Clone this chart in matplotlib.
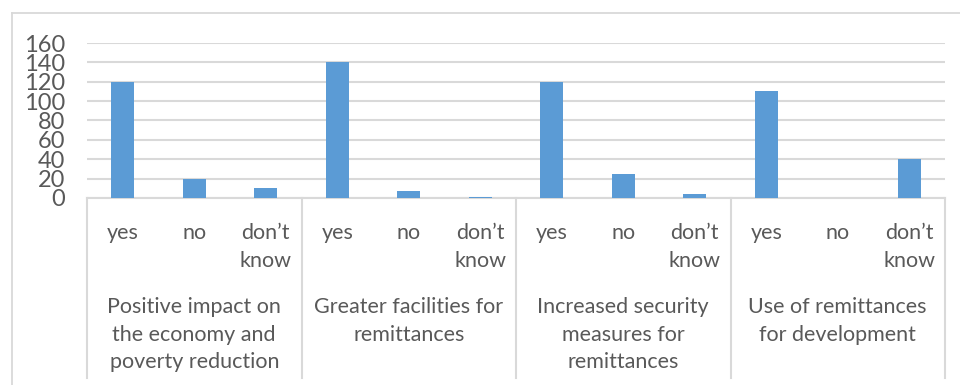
import matplotlib.pyplot as plt
import matplotlib.transforms as mtransforms
import numpy as np

# -----------------------------
# Data
# -----------------------------
groups = ["Positive impact on\nthe economy and\npoverty reduction",
          "Greater facilities for\nremittances",
          "Increased security\nmeasures for\nremittances",
          "Use of remittances\nfor development"]
answers = ["yes", "no", "don\u2019t\nknow"]
values = [120, 20, 10,
          140, 7, 1,
          120, 25, 4,
          110, 0, 40]
yticks = [0, 20, 40, 60, 80, 100, 120, 140, 160]

# -----------------------------
# Figure setup
# -----------------------------
plt.rcParams['font.family'] = ['Lato', 'DejaVu Sans']
W, H = 960, 385
fig = plt.figure(figsize=(W / 100, H / 100), dpi=100)
txt_color = '#595959'
grid_color = '#d9d9d9'
fs = 15.5

# outer chart border (left and top visible)
fig.add_artist(plt.Line2D([11.5 / W, 11.5 / W], [0, 1 - 13 / H], color=grid_color, lw=1.3))
fig.add_artist(plt.Line2D([11.5 / W, 1], [1 - 13 / H, 1 - 13 / H], color=grid_color, lw=1.3))

left, right = 87 / W, 945 / W
bottom, top = 1 - 198 / H, 1 - 43 / H
ax = fig.add_axes([left, bottom, right - left, top - bottom])

n = len(values)
x = np.arange(n)
ax.bar(x, values, width=0.32, color='#5b9bd5', zorder=3)

ax.set_xlim(-0.5, n - 0.5)
ax.set_ylim(0, 160)
ax.set_yticks(yticks)
ax.set_yticklabels([str(v) for v in yticks], fontsize=17, color=txt_color)
ax.tick_params(axis='y', length=0, pad=16)
ax.set_xticks([])
ax.grid(axis='y', color=grid_color, lw=1.5, zorder=0)
for s in ['top', 'right', 'left']:
    ax.spines[s].set_visible(False)
ax.spines['bottom'].set_color(grid_color)
ax.spines['bottom'].set_linewidth(1.5)

# -----------------------------
# Multi-level category axis
# -----------------------------
px = (top - bottom) * H  # axes height in pixels
trans = mtransforms.blended_transform_factory(ax.transData, ax.transAxes)
sep_bottom = -(378 - 198) / px
for k in range(len(groups) + 1):
    xs = k * 3 - 0.5
    ax.plot([xs, xs], [0, sep_bottom], transform=trans, color=grid_color,
            lw=1.5, clip_on=False)

for i in range(n):
    ax.text(x[i], -(223 - 198) / px, answers[i % 3], transform=trans,
            ha='center', va='top', fontsize=fs, color=txt_color, linespacing=1.48)

for g, label in enumerate(groups):
    ax.text(g * 3 + 1, -(297 - 198) / px, label, transform=trans,
            ha='center', va='top', fontsize=fs, color=txt_color, linespacing=1.48)

plt.savefig('out.png', dpi=100)
